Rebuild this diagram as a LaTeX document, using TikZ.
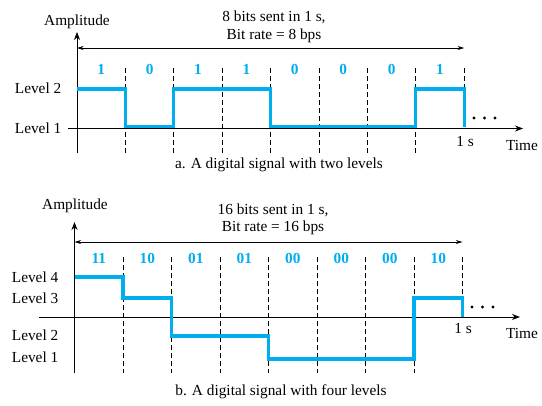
\documentclass[tikz,border=0pt]{standalone}
\usepackage{fontspec}
\setmainfont{Liberation Serif}
\usepackage{xcolor}
\usetikzlibrary{arrows.meta}
\definecolor{sigblue}{RGB}{0,174,239}

\begin{document}
\begin{tikzpicture}[x=0.75pt,y=-0.75pt,
  every node/.style={font=\rmfamily\fontsize{11.5pt}{13pt}\selectfont},
  axis/.style={line width=0.6pt,-{Stealth[length=6pt,width=4.5pt]}},
  span/.style={line width=0.5pt,{Stealth[length=5pt,width=3pt]}-{Stealth[length=5pt,width=3pt]}},
  tickline/.style={line width=0.6pt,dash pattern=on 3.5pt off 2.5pt},
  signal/.style={sigblue,line width=2.3pt},
  bitlabel/.style={sigblue,font=\rmfamily\fontsize{11.5pt}{13pt}\selectfont\bfseries}]
\useasboundingbox (0,0) rectangle (542,405);

% a. two levels
\draw[axis] (77,153) -- (77,32);
\draw[axis] (68,128.5) -- (523,128.5);
\node (ampA) at (77,22) {Amplitude};
\node (countA) at (274,17) {8 bits sent in 1 s,};
\node (rateA) at (274,36) {Bit rate = 8 bps};
\draw[span] (77,48) -- (464.2,48);
\foreach \k in {1,...,7}
  \draw[tickline] (77+48.4*\k,68) -- (77+48.4*\k,153);
\draw[tickline] (464.2,68) -- (464.2,89);
\foreach \b [count=\k from 0] in {1,0,1,1,0,0,0,1}
  \node[bitlabel] (bitA\k) at (77+48.4*\k+24.2,69) {\b};
\draw[signal] (77,89) -- (125.4,89) -- (125.4,126.5) -- (173.8,126.5) -- (173.8,89)
  -- (270.6,89) -- (270.6,126.5) -- (415.8,126.5) -- (415.8,89) -- (464.2,89) -- (464.2,127);
\node[anchor=east] (lvlA2) at (66,88) {Level 2};
\node[anchor=east] (lvlA1) at (66,128) {Level 1};
\node (secA) at (465,142) {1 s};
\node (timeA) at (522,145) {Time};
\foreach \d in {0,1,2}
  \fill (474+10.5*\d,118) circle (1.7);
\node (capA) at (279,165) {a. A digital signal with two levels};

% b. four levels
\draw[axis] (74.5,373) -- (74.5,222);
\draw[axis] (39,317) -- (520,317);
\node (ampB) at (75,206) {Amplitude};
\node (countB) at (273,210) {16 bits sent in 1 s,};
\node (rateB) at (273,228) {Bit rate = 16 bps};
\draw[span] (74.5,242) -- (462.5,242);
\foreach \k in {1,...,7}
  \draw[tickline] (74.5+48.5*\k,257) -- (74.5+48.5*\k,373);
\draw[tickline] (462.5,257) -- (462.5,298);
\foreach \b [count=\k from 0] in {11,10,01,01,00,00,00,10}
  \node[bitlabel] (bitB\k) at (74.5+48.5*\k+24.25,258) {\b};
\draw[signal] (74.5,277) -- (123,277) -- (123,298) -- (171.5,298) -- (171.5,336)
  -- (268.5,336) -- (268.5,359) -- (414,359) -- (414,298) -- (462.5,298) -- (462.5,317);
\node[anchor=east] (lvlB4) at (63,277) {Level 4};
\node[anchor=east] (lvlB3) at (63,298) {Level 3};
\node[anchor=east] (lvlB2) at (63,335) {Level 2};
\node[anchor=east] (lvlB1) at (63,357) {Level 1};
\node (secB) at (463,329) {1 s};
\node (timeB) at (522,333) {Time};
\foreach \d in {0,1,2}
  \fill (472+10.5*\d,307) circle (1.7);
\node (capB) at (281,392) {b. A digital signal with four levels};
\end{tikzpicture}
\end{document}
